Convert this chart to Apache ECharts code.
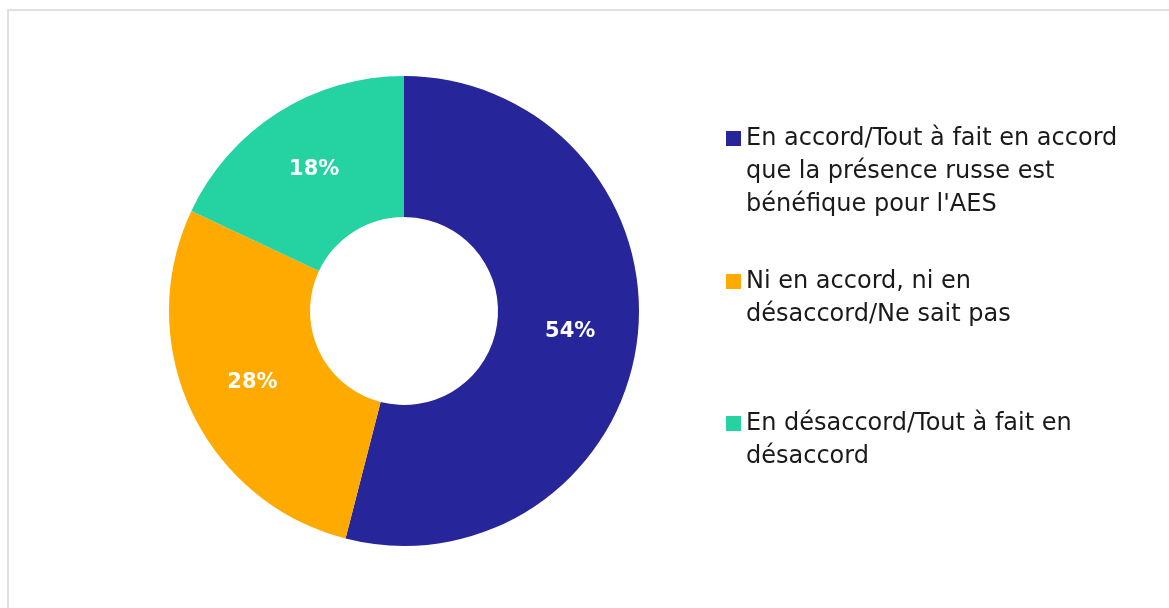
<!DOCTYPE html>
<html>
<head>
<meta charset="utf-8">
<script src="https://cdn.jsdelivr.net/npm/echarts@6/dist/echarts.min.js"></script>
<style>
  html, body { margin: 0; padding: 0; background: #fff; }
  .frame {
    position: absolute;
    left: 7px;
    top: 9px;
    width: 1180px;
    height: 620px;
    border: 2px solid #e0e0e0;
  }
  #chart {
    position: absolute;
    left: 0;
    top: 0;
    width: 1169px;
    height: 608px;
  }
</style>
</head>
<body>
<div class="frame"></div>
<div id="chart"></div>
<script>
// categories and values (percent)
const categories = [
  "En accord/Tout à fait en accord\nque la présence russe est\nbénéfique pour l'AES",
  "Ni en accord, ni en\ndésaccord/Ne sait pas",
  "En désaccord/Tout à fait en\ndésaccord"
];
const values = [54, 28, 18];
const colors = ['#27259a', '#ffaa00', '#24d3a1'];

const chart = echarts.init(document.getElementById('chart'));

const lineH = 33;
const legendTops = [122, 265, 407];
const legendStyle = {
  fontFamily: 'DejaVu Sans',
  fontSize: 24,
  lineHeight: lineH,
  color: '#1a1a1a'
};

// square icon pinned to the first text line
function topIcon(lines) {
  const h = lines * lineH;
  const y = lineH / 2 - 7.5;
  return {
    icon: 'path://M0,0 M0,' + y + ' h15 v15 h-15 Z M15,' + h,
    h: h
  };
}

const option = {
  animation: false,
  color: colors,
  legend: categories.map((name, i) => {
    const ic = topIcon(name.split('\n').length);
    return {
      data: [name],
      orient: 'vertical',
      left: 726,
      top: legendTops[i],
      icon: ic.icon,
      itemWidth: 15,
      itemHeight: ic.h,
      itemGap: 0,
      selectedMode: false,
      textStyle: legendStyle,
      padding: 0
    };
  }),
  series: [{
    type: 'pie',
    center: [404, 311],
    radius: [94, 235],
    startAngle: 90,
    clockwise: true,
    label: {
      show: true,
      position: 'inside',
      formatter: '{c}%',
      color: '#fff',
      fontFamily: 'DejaVu Sans',
      fontWeight: 'bold',
      fontSize: 21
    },
    labelLine: { show: false },
    itemStyle: { borderWidth: 0 },
    emphasis: { disabled: true },
    data: categories.map((name, i) => ({ name: name, value: values[i] }))
  }]
};

chart.setOption(option);
</script>
</body>
</html>
